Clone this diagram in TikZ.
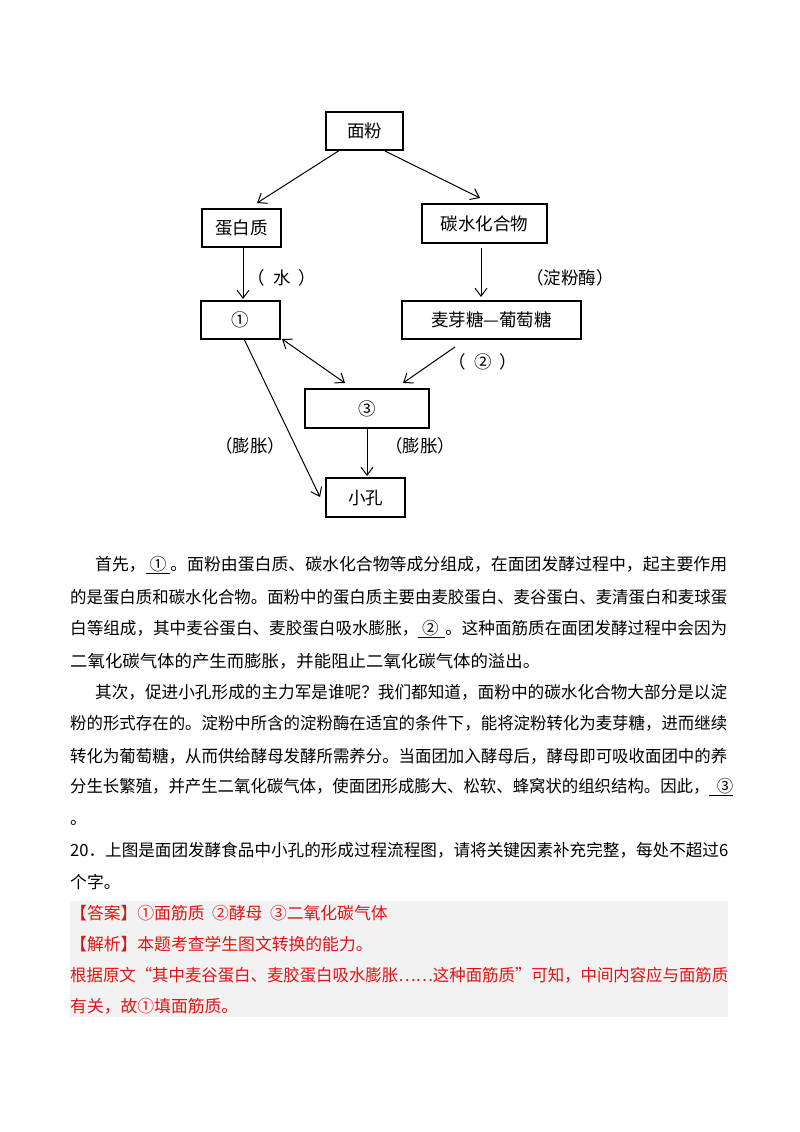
\documentclass[tikz,border=0pt]{standalone}
\usepackage{fontspec}
\usepackage{graphicx}
\setmainfont{Noto Sans CJK SC}
\usetikzlibrary{arrows.meta}
\definecolor{ansred}{RGB}{225,20,20}
\definecolor{ansbg}{RGB}{242,242,242}
\newcommand{\jl}[2]{\resizebox{#1pt}{\height}{#2}}
\begin{document}
\begin{tikzpicture}[x=1pt,y=-1pt,
  box/.style={draw,line width=1.3pt,inner sep=0pt},
  arr/.style={line width=1pt,-{Straight Barb[length=8pt,width=12pt]}},
  lbl/.style={font=\fontsize{17.5}{17}\selectfont},
  ln/.style={anchor=west,inner sep=0pt,font=\fontsize{16.8}{17}\selectfont},
  rl/.style={ln,text=ansred}]
\useasboundingbox (0,0) rectangle (800,1132);
\fill[white] (0,0) rectangle (800,1132);
% boxes
\node[box,minimum width=77pt,minimum height=38pt,lbl] (mf) at (364.5,131) {面粉};
\node[box,minimum width=79pt,minimum height=38pt,lbl] (dbz) at (241.5,228) {蛋白质};
\node[box,minimum width=125pt,minimum height=39pt,lbl] (ts) at (484.5,223.5) {碳水化合物};
\node[box,minimum width=79pt,minimum height=38pt,lbl] (c1) at (240.5,320) {①};
\node[box,minimum width=179pt,minimum height=38pt,lbl] (my) at (491.5,320) {麦芽糖—葡萄糖};
\node[box,minimum width=124pt,minimum height=39pt,lbl] (c3) at (367,408.5) {③};
\node[box,minimum width=79pt,minimum height=39pt,lbl] (xk) at (365.5,497.5) {小孔};
% arrows
\draw[arr] (340,150) -- (257,203);
\draw[arr] (385,151) -- (480,198);
\draw[arr] (243,247) -- (243,299);
\draw[arr] (481,248) -- (481,297);
\draw[arr,{Straight Barb[length=8pt,width=12pt]}-{Straight Barb[length=8pt,width=12pt]}] (282,339) -- (345,383);
\draw[arr] (455,347) -- (403,383);
\draw[arr] (244,339) -- (320,497);
\draw[arr] (367,428) -- (367,476);
% labels
\node[lbl] (lw) at (282,278) {（\ \ 水\ \ ）};
\node[lbl] (ld) at (570,278) {（淀粉酶）};
\node[lbl] (l2) at (483,362) {（\ \ ②\ \ ）};
\node[lbl] (lp1) at (250,446) {（膨胀）};
\node[lbl] (lp2) at (420,446) {（膨胀）};
% text
\node[ln] (t1) at (95,565) {\jl{632}{首先，\underline{\ ① }。面粉由蛋白质、碳水化合物等成分组成，在面团发酵过程中，起主要作用}};
\node[ln] (t2) at (70,597) {\jl{657}{的是蛋白质和碳水化合物。面粉中的蛋白质主要由麦胶蛋白、麦谷蛋白、麦清蛋白和麦球蛋}};
\node[ln] (t3) at (70,629) {\jl{657}{白等组成，其中麦谷蛋白、麦胶蛋白吸水膨胀，\underline{\ ② \,}。这种面筋质在面团发酵过程中会因为}};
\node[ln] (t4) at (70,661) {\jl{470}{二氧化碳气体的产生而膨胀，并能阻止二氧化碳气体的溢出。}};
\node[ln] (t5) at (95,692) {\jl{632}{其次，促进小孔形成的主力军是谁呢？我们都知道，面粉中的碳水化合物大部分是以淀}};
\node[ln] (t6) at (70,723) {\jl{657}{粉的形式存在的。淀粉中所含的淀粉酶在适宜的条件下，能将淀粉转化为麦芽糖，进而继续}};
\node[ln] (t7) at (70,756) {\jl{657}{转化为葡萄糖，从而供给酵母发酵所需养分。当面团加入酵母后，酵母即可吸收面团中的养}};
\node[ln] (t8) at (70,787) {\jl{663}{分生长繁殖，并产生二氧化碳气体，使面团形成膨大、松软、蜂窝状的组织结构。因此，\underline{\ \ ③}}};
\node[ln] (t9) at (70,823) {。};
\node[ln] (t10) at (70,850) {\jl{658}{20．上图是面团发酵食品中小孔的形成过程流程图，请将关键因素补充完整，每处不超过6}};
\node[ln] (t11) at (70,882) {个字。};
\fill[ansbg] (70,901) rectangle (728,1017);
\node[rl] (a1) at (70,913) {【答案】①面筋质 \ ②酵母 \ ③二氧化碳气体};
\node[rl] (a2) at (70,944) {【解析】本题考查学生图文转换的能力。};
\node[rl] (a3) at (70,975) {\jl{658}{根据原文“其中麦谷蛋白、麦胶蛋白吸水膨胀……这种面筋质”可知，中间内容应与面筋质}};
\node[rl] (a4) at (70,1006) {有关，故①填面筋质。};
\end{tikzpicture}
\end{document}
